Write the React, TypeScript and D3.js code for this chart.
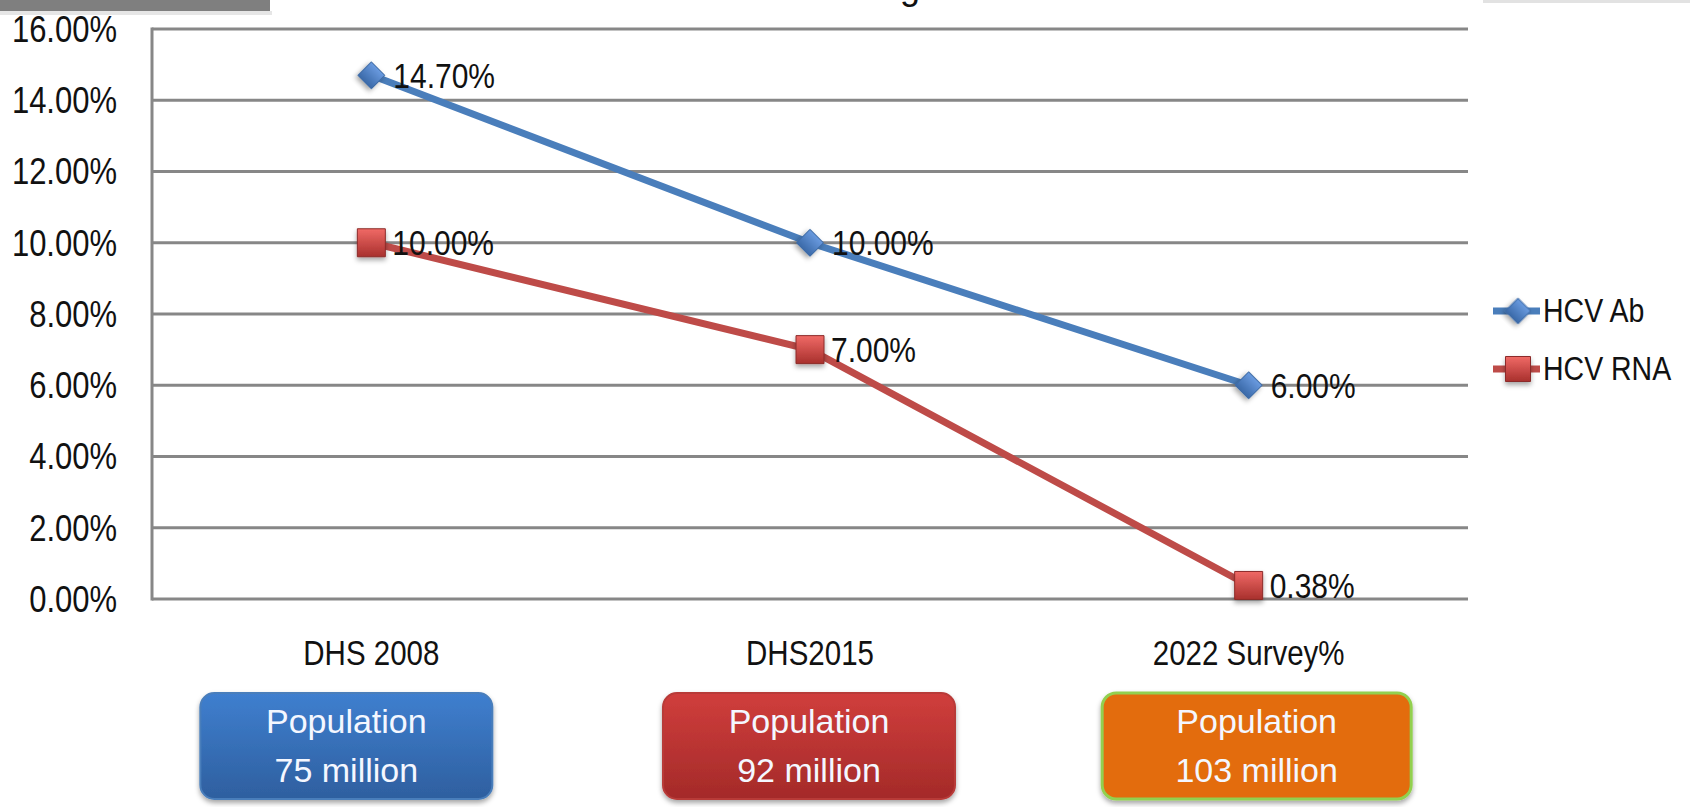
import React, { useEffect, useRef } from "react";
import * as d3 from "d3";

// chart values
const categories = ["DHS 2008", "DHS2015", "2022 Survey%"];
const hcvAb = [14.7, 10.0, 6.0];
const hcvRna = [10.0, 7.0, 0.38];
const seriesNames = ["HCV Ab", "HCV RNA"];
const yTicks = [0, 2, 4, 6, 8, 10, 12, 14, 16];
const populations = ["75 million", "92 million", "103 million"];

const W = 1690;
const H = 807;
const FONT = "'Liberation Sans', Arial, sans-serif";
const STRETCH = 1.17;

const App = () => {
  const svgRef = useRef<SVGSVGElement>(null);

  useEffect(() => {
    const svg = d3.select(svgRef.current);
    svg.selectAll("*").remove();

    const margin = { top: 29, right: 222, bottom: 208, left: 152 };
    const x = d3.scaleBand().domain(categories).range([margin.left, W - margin.right]);
    const cx = (c: string) => (x(c) as number) + x.bandwidth() / 2;
    const y = d3.scaleLinear().domain([0, 16]).range([H - margin.bottom, margin.top]);
    const fmt = (v: number) => d3.format(".2f")(v) + "%";

    const defs = svg.append("defs");
    const grad = (id: string, top: string, bottom: string) => {
      const g = defs.append("linearGradient").attr("id", id).attr("x1", 0).attr("y1", 0).attr("x2", 0).attr("y2", 1);
      g.append("stop").attr("offset", "0%").attr("stop-color", top);
      g.append("stop").attr("offset", "100%").attr("stop-color", bottom);
    };
    grad("gBlueMark", "#6a9be0", "#3a69a8");
    grad("gRedMark", "#f06a66", "#a8302d");
    grad("gBox0", "#3f7fcf", "#2e5f9f");
    grad("gBox1", "#d03e3c", "#a42a29");
    grad("gBox2", "#e36c0a", "#e36c0a");
    const sh = defs.append("filter").attr("id", "shadow").attr("x", "-30%").attr("y", "-30%").attr("width", "160%").attr("height", "170%");
    sh.append("feDropShadow").attr("dx", 0).attr("dy", 3).attr("stdDeviation", 2.5).attr("flood-color", "#000").attr("flood-opacity", 0.35);

    const stretchedText = (g: any, tx: number, ty: number, txt: string, size: number, anchor: string) =>
      g.append("text")
        .attr("transform", `translate(${tx},${ty}) scale(1,${STRETCH})`)
        .attr("text-anchor", anchor)
        .attr("dominant-baseline", "central")
        .attr("font-family", FONT)
        .attr("font-size", size)
        .attr("fill", "#111")
        .text(txt);

    // top decorations (cut off slide parts)
    svg.append("rect").attr("x", 0).attr("y", 0).attr("width", 270).attr("height", 11).attr("fill", "#7f7f7f");
    svg.append("rect").attr("x", 0).attr("y", 11).attr("width", 272).attr("height", 4).attr("fill", "#e6e6e6");
    svg.append("rect").attr("x", 1483).attr("y", 0).attr("width", 207).attr("height", 3).attr("fill", "#e2e2e2");
    svg.append("text").attr("x", 900).attr("y", -1).attr("font-family", FONT).attr("font-size", 36).attr("fill", "#111").text("g");

    // gridlines
    svg.append("g")
      .selectAll("line")
      .data(yTicks)
      .join("line")
      .attr("x1", margin.left)
      .attr("x2", W - margin.right)
      .attr("y1", (d) => y(d))
      .attr("y2", (d) => y(d))
      .attr("stroke", "#878787")
      .attr("stroke-width", 3);
    svg.append("line")
      .attr("x1", margin.left).attr("x2", margin.left)
      .attr("y1", y(16) - 1.5).attr("y2", y(0) + 1.5)
      .attr("stroke", "#878787").attr("stroke-width", 3);

    // y tick labels
    const yl = svg.append("g");
    yTicks.forEach((t) => stretchedText(yl, 117, y(t), fmt(t), 31, "end"));

    // category labels
    const xl = svg.append("g");
    categories.forEach((c) => stretchedText(xl, cx(c), 653, c, 29.5, "middle"));

    // lines
    const line = d3.line<number>().x((_, i) => cx(categories[i])).y((d) => y(d));
    svg.append("path").datum(hcvAb).attr("d", line).attr("fill", "none").attr("stroke", "#4a7ebb").attr("stroke-width", 7);
    svg.append("path").datum(hcvRna).attr("d", line).attr("fill", "none").attr("stroke", "#be4b48").attr("stroke-width", 7);

    const diamond = d3.symbol(d3.symbolSquare, 19 * 19);
    const square = d3.symbol(d3.symbolSquare, 28 * 28);

    svg.append("g")
      .selectAll("path")
      .data(hcvAb)
      .join("path")
      .attr("d", diamond)
      .attr("transform", (d, i) => `translate(${cx(categories[i])},${y(d)}) rotate(45)`)
      .attr("fill", "url(#gBlueMark)")
      .attr("stroke", "#3c6aa5")
      .attr("stroke-width", 1)
      .attr("filter", "url(#shadow)");
    svg.append("g")
      .selectAll("path")
      .data(hcvRna)
      .join("path")
      .attr("d", square)
      .attr("transform", (d, i) => `translate(${cx(categories[i])},${y(d)})`)
      .attr("fill", "url(#gRedMark)")
      .attr("stroke", "#8c2b29")
      .attr("stroke-width", 1)
      .attr("filter", "url(#shadow)");

    // data labels
    const dl = svg.append("g");
    hcvAb.forEach((v, i) => stretchedText(dl, cx(categories[i]) + 22, y(v), fmt(v), 30, "start"));
    hcvRna.forEach((v, i) => stretchedText(dl, cx(categories[i]) + 21, y(v), fmt(v), 30, "start"));

    // legend
    const lg = svg.append("g");
    const legendY = [311, 369];
    seriesNames.forEach((s, i) => {
      const ly = legendY[i];
      lg.append("line").attr("x1", 1493).attr("x2", 1540).attr("y1", ly).attr("y2", ly)
        .attr("stroke", i === 0 ? "#4a7ebb" : "#be4b48").attr("stroke-width", 7);
      lg.append("path")
        .attr("d", i === 0 ? d3.symbol(d3.symbolSquare, 18 * 18)() : d3.symbol(d3.symbolSquare, 25 * 25)())
        .attr("transform", `translate(1518,${ly})${i === 0 ? " rotate(45)" : ""}`)
        .attr("fill", i === 0 ? "url(#gBlueMark)" : "url(#gRedMark)")
        .attr("stroke", i === 0 ? "#3c6aa5" : "#8c2b29")
        .attr("filter", "url(#shadow)");
      stretchedText(lg, 1543, ly, s, 28.5, "start");
    });

    // population boxes under categories
    const boxOffset = [-25, -1, 8];
    const boxWidth = [292, 292, 309];
    const boxStroke = ["#4a7ebb", "#b83a38", "#92d050"];
    const bx = svg.append("g");
    populations.forEach((p, i) => {
      const c = cx(categories[i]) + boxOffset[i];
      const g = bx.append("g");
      g.append("rect")
        .attr("x", c - boxWidth[i] / 2).attr("y", 693)
        .attr("width", boxWidth[i]).attr("height", 106)
        .attr("rx", 14)
        .attr("fill", `url(#gBox${i})`)
        .attr("stroke", boxStroke[i])
        .attr("stroke-width", i === 2 ? 3 : 2)
        .attr("filter", "url(#shadow)");
      g.append("text").attr("x", c).attr("y", 721).attr("text-anchor", "middle").attr("dominant-baseline", "central")
        .attr("font-family", FONT).attr("font-size", 34).attr("fill", "#f4f7ff").text("Population");
      g.append("text").attr("x", c).attr("y", 770).attr("text-anchor", "middle").attr("dominant-baseline", "central")
        .attr("font-family", FONT).attr("font-size", 34).attr("fill", "#f4f7ff").text(p);
    });
  }, []);

  return (
    <svg ref={svgRef} width={W} height={H} style={{ position: "absolute", left: 0, top: 0, background: "#fff" }}></svg>
  );
};

export default App;
